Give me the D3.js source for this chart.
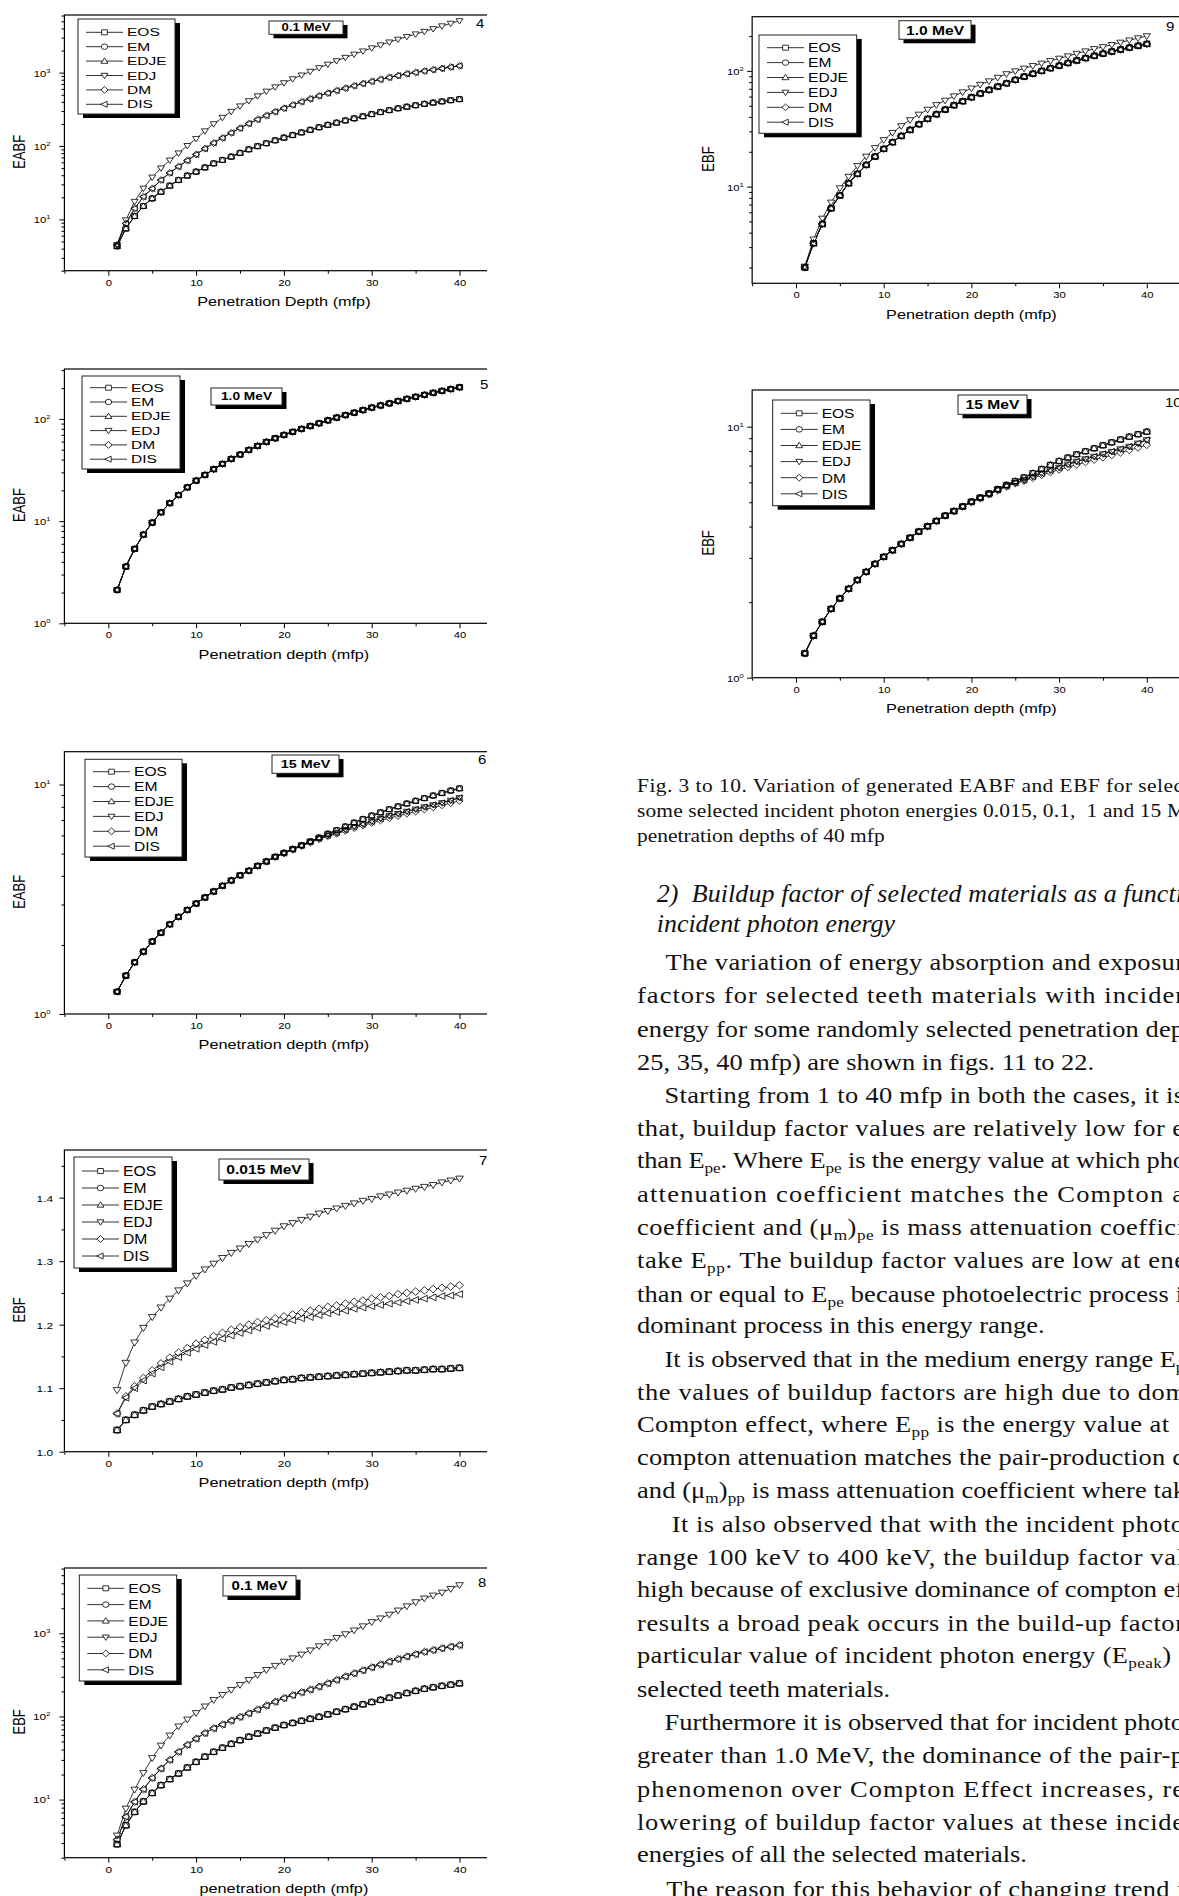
<!DOCTYPE html>
<html>
<head>
<meta charset="utf-8">
<title>EABF and EBF versus penetration depth</title>
<script src="https://d3js.org/d3.v7.min.js"></script>
<style>
  body { margin: 0; background: #fff; }
  svg { display: block; }
</style>
</head>
<body>
<script>
// ---- data ----
const depth = [1,2,3,4,5,6,7,8,9,10,11,12,13,14,15,16,17,18,19,20,
               21,22,23,24,25,26,27,28,29,30,31,32,33,34,35,36,37,38,39,40];
const materials = ["EOS", "EM", "EDJE", "EDJ", "DM", "DIS"];
const xMajor = [0, 10, 20, 30, 40];
const xMinor = [-5, 5, 15, 25, 35, 45];

// fig 4: EABF, 0.1 MeV
const eabf01Low = [4.3,7.5,11.1,15.2,19.3,23.8,28.8,34.4,39.5,44.7, 51,58,64.5,71.6,80.5,90,99.5,109,119.5,130,
                   141,153,166,180,194,208,223,238,254,272, 290,308,326,343,359,375,390,405,420,435];
const eabf01Mid = [4.5,8.8,14.1,20.4,26.3,34.4,43,52.5,63.5,76.7, 92,110,129,151,175,202,230,260,293,327,
                   363,401,440,482,525,569,613,661,709,759, 808,859,910,962,1005,1050,1095,1140,1190,1240];
const eabf01High = [4.5,9.8,17.5,26.5,37.5,50,64,80,101,126, 160,200,244,295,350,412,480,556,636,724,
                    820,923,1037,1161,1297,1445,1605,1778,1962,2163, 2375,2600,2840,3090,3350,3630,3950,4315,4680,5070];
// fig 5: EABF, 1.0 MeV
const eabf10All = [2.12,3.59,5.35,7.38,9.67,12.2,15.0,18.0,21.4,24.9, 28.3,32.2,36.3,40.6,44.8,49.7,54.4,59.6,64.7,69.7,
                   74.7,79.8,85.2,90.7,96.8,103,109,115,122,129, 135.5,142,149.5,157,164.5,172,180,188,196,204];
// fig 6: EABF, 15 MeV
const eabf15Upper = [1.25,1.47,1.68,1.87,2.07,2.26,2.46,2.65,2.84,3.03, 3.22,3.42,3.62,3.82,4.02,4.21,4.42,4.62,4.84,5.04,
                     5.24,5.44,5.65,5.87,6.1,6.32,6.56,6.82,7.07,7.32, 7.56,7.8,8.03,8.26,8.49,8.72,8.95,9.18,9.41,9.62];
const eabf15Lower = [1.25,1.47,1.68,1.87,2.07,2.26,2.46,2.65,2.84,3.03, 3.22,3.42,3.62,3.82,4.02,4.21,4.42,4.62,4.84,5.02,
                     5.21,5.41,5.62,5.82,6.0,6.15,6.35,6.55,6.72,6.9, 7.1,7.3,7.46,7.63,7.8,7.98,8.15,8.32,8.52,8.75];
const eabf15DM = [1.25,1.47,1.68,1.87,2.07,2.26,2.46,2.65,2.84,3.03, 3.22,3.42,3.62,3.82,4.02,4.21,4.42,4.62,4.83,5.01,
                  5.2,5.39,5.58,5.78,5.95,6.1,6.28,6.46,6.63,6.8, 6.97,7.14,7.3,7.46,7.62,7.78,7.95,8.12,8.3,8.49];
// fig 7: EBF, 0.015 MeV
const ebf0015Low = [1.034,1.050,1.058,1.065,1.071,1.075,1.079,1.083,1.087,1.090, 1.093,1.096,1.098,1.101,1.103,1.105,1.107,1.109,1.111,1.113,
                    1.114,1.116,1.117,1.118,1.119,1.120,1.121,1.122,1.123,1.124, 1.125,1.126,1.127,1.128,1.128,1.129,1.130,1.130,1.131,1.132];
const ebf0015DM = [1.06,1.087,1.103,1.116,1.128,1.139,1.148,1.156,1.163,1.170, 1.176,1.182,1.187,1.192,1.196,1.200,1.204,1.207,1.210,1.213,
                   1.216,1.219,1.222,1.225,1.228,1.230,1.233,1.236,1.238,1.241, 1.243,1.245,1.248,1.250,1.252,1.254,1.256,1.258,1.260,1.262];
const ebf0015DIS = [1.06,1.085,1.100,1.112,1.123,1.133,1.142,1.149,1.156,1.162, 1.168,1.173,1.178,1.183,1.187,1.191,1.195,1.198,1.201,1.204,
                    1.207,1.210,1.212,1.215,1.218,1.220,1.222,1.225,1.227,1.229, 1.231,1.233,1.235,1.237,1.239,1.241,1.243,1.245,1.246,1.248];
const ebf0015EDJ = [1.097,1.140,1.172,1.195,1.212,1.227,1.241,1.254,1.265,1.277, 1.287,1.296,1.305,1.313,1.320,1.327,1.334,1.341,1.348,1.355,
                    1.360,1.365,1.370,1.375,1.379,1.383,1.387,1.391,1.395,1.398, 1.402,1.405,1.408,1.411,1.414,1.417,1.420,1.424,1.427,1.430];
// fig 8: EBF, 0.1 MeV
const ebf01Low = [2.9,4.9,7.1,9.5,12.0,14.9,17.6,20.6,24.3,28.4, 32.8,37.5,42,46.8,51.8,57,62.3,67.8,73.2,78.7,
                  83.5,88.5,93.7,99,106,114,122,131,140,149, 158,168,179,191,203,215,224,233,241,250];
const ebf01Mid = [3.3,6.2,9.4,13.3,18.2,23.6,30,37.5,45.5,54, 63,72,80,89,98.5,109,121,135,150,166,
                  180,195,210,228,250,275,302,330,359,389, 421,455,490,525,560,598,628,660,690,720];
const ebf01High = [3.7,7.8,13.2,20.9,31.6,44.7,59,76,92,110, 132,158,182,209,240,275,316,363,407,457,
                   501,556,624,700,785,881,977,1084,1216,1365, 1514,1679,1884,2113,2371,2630,2851,3090,3428,3802];
// fig 9: EBF, 1.0 MeV
const ebf10All = [2.0,3.24,4.75,6.5,8.4,10.7,12.9,15.4,18.2,21.2, 24.2,27.4,30.9,34.6,38.5,42.2,46.3,50.5,54.7,59.2,
                  63.8,68.5,73.3,78.2,83.7,89.3,94.6,100,105.5,111, 117,123,129,135,141,147,153,159,165,171];
const ebf10EDJ = [2.04,3.5,5.3,7.3,9.7,12.2,15.1,18.2,21.6,25.3, 29.2,33.4,37.6,42,46.3,50.8,55.5,60.5,65.5,70.7,
                  76,81.5,87.5,94,99.5,105,110.5,116,122,128, 134,141,148,155,161,168,176,184,192,200];
// fig 10: EBF, 15 MeV
const ebf15Upper = [1.25,1.47,1.67,1.88,2.07,2.26,2.45,2.64,2.84,3.03, 3.22,3.41,3.61,3.82,4.01,4.21,4.42,4.61,4.81,5.03,
                    5.22,5.42,5.64,5.86,6.07,6.28,6.53,6.78,7.04,7.3, 7.53,7.76,7.98,8.2,8.43,8.66,8.89,9.12,9.33,9.55];
const ebf15Lower = [1.25,1.47,1.67,1.88,2.07,2.26,2.45,2.64,2.84,3.03, 3.22,3.41,3.61,3.82,4.01,4.21,4.42,4.61,4.81,5.01,
                    5.2,5.39,5.6,5.8,5.97,6.13,6.33,6.52,6.7,6.87, 7.07,7.26,7.43,7.6,7.78,7.95,8.14,8.33,8.58,8.85];
const ebf15DM = [1.25,1.47,1.67,1.88,2.07,2.26,2.45,2.64,2.84,3.03, 3.22,3.41,3.61,3.82,4.01,4.21,4.42,4.61,4.8,5.0,
                 5.18,5.37,5.57,5.77,5.95,6.08,6.25,6.42,6.58,6.74, 6.9,7.06,7.22,7.38,7.54,7.7,7.88,8.06,8.25,8.45];

// ---- styles ----
const sans = "'Liberation Sans', Arial, Helvetica, sans-serif";
const serif = "'Liberation Serif', 'Times New Roman', Times, serif";
const markerOf = {EOS: "square", EM: "circle", EDJE: "up", EDJ: "down", DM: "diamond", DIS: "left"};
const markerPath = {
  square: "M-2.5,-2.5H2.5V2.5H-2.5Z",
  circle: d3.symbol(d3.symbolCircle, 24)(),
  up: "M0,-3.2L3,2.2L-3,2.2Z",
  down: "M0,3.2L3,-2.2L-3,-2.2Z",
  diamond: "M0,-3.4L3.1,0L0,3.4L-3.1,0Z",
  left: "M-3.3,0L2.3,-3L2.3,3Z"
};

const svg = d3.select("body").append("svg")
  .attr("width", 1179).attr("height", 1896)
  .style("background", "#fff");

function stretchText(parent, x, y, str, size, sx, anchor, weight) {
  return parent.append("text")
    .attr("transform", `translate(${x},${y}) scale(${sx},1)`)
    .attr("font-family", sans)
    .attr("font-size", size)
    .attr("font-weight", weight || "normal")
    .attr("text-anchor", anchor || "start")
    .attr("fill", "#000")
    .text(str);
}

const leftCol = {x0: 108.3, unit: 8.78, clipR: 487, labOff: 14, titleX: 45};
const rightCol = {x0: 796, unit: 8.77, clipR: 1179, labOff: 8.5, titleX: 44};

const panels = [
  Object.assign({}, leftCol, {num: "4", numX: 476, numY: 28, energy: "0.1 MeV", yTitle: "EABF",
    xTitle: "Penetration Depth (mfp)", top: 15, bottom: 270.7, log: true, yDomain: [2, 6100],
    legend: {x: 78, y: 19, w: 97, h: 95, first: 32.3, step: 14.4, font: 11.5, sx: 1.35},
    tag: {x: 269, y: 21, w: 74, h: 13.3, font: 10.5}, ms: 1, tick: 9,
    series: {EOS: eabf01Low, EM: eabf01Low, EDJE: eabf01Low, EDJ: eabf01High, DM: eabf01Mid, DIS: eabf01Mid}}),
  Object.assign({}, leftCol, {num: "5", numX: 480, numY: 389, energy: "1.0 MeV", yTitle: "EABF",
    xTitle: "Penetration depth (mfp)", top: 369, bottom: 623.3, log: true, yDomain: [1, 308],
    legend: {x: 82, y: 376, w: 98, h: 93, first: 387.7, step: 14.3, font: 11.5, sx: 1.35},
    tag: {x: 211, y: 388, w: 71, h: 17, font: 11}, ms: 1, tick: 9,
    series: {EOS: eabf10All, EM: eabf10All, EDJE: eabf10All, EDJ: eabf10All, DM: eabf10All, DIS: eabf10All}}),
  Object.assign({}, leftCol, {num: "6", numX: 478, numY: 764, energy: "15 MeV", yTitle: "EABF",
    xTitle: "Penetration depth (mfp)", top: 751.7, bottom: 1014, log: true, yDomain: [1, 13.9],
    legend: {x: 85, y: 759.3, w: 97, h: 97.7, first: 771.7, step: 14.9, font: 12, sx: 1.3},
    tag: {x: 272, y: 755, w: 67, h: 18.3, font: 11.5}, ms: 1, tick: 9,
    series: {EOS: eabf15Upper, EM: eabf15Upper, EDJE: eabf15Upper, EDJ: eabf15Lower, DM: eabf15DM, DIS: eabf15Lower}}),
  Object.assign({}, leftCol, {num: "7", numX: 479, numY: 1165, energy: "0.015 MeV", yTitle: "EBF",
    xTitle: "Penetration depth (mfp)", top: 1150, bottom: 1451.7, log: false, yDomain: [1.0, 1.475],
    yMajor: [1.0, 1.1, 1.2, 1.3, 1.4], yMinor: [1.05, 1.15, 1.25, 1.35, 1.45], labOff: 11.3,
    legend: {x: 74, y: 1157, w: 98, h: 111, first: 1171, step: 17, font: 14, sx: 1.12},
    tag: {x: 219, y: 1159, w: 90, h: 21, font: 12.5}, ms: 1.12, tick: 9.5,
    series: {EOS: ebf0015Low, EM: ebf0015Low, EDJE: ebf0015Low, EDJ: ebf0015EDJ, DM: ebf0015DM, DIS: ebf0015DIS}}),
  Object.assign({}, leftCol, {num: "8", numX: 478, numY: 1587, energy: "0.1 MeV", yTitle: "EBF",
    xTitle: "penetration depth (mfp)", top: 1568, bottom: 1857.7, log: true, yDomain: [2, 6100],
    legend: {x: 79.3, y: 1575, w: 97.4, h: 106, first: 1588.3, step: 16.3, font: 13.5, sx: 1.15},
    tag: {x: 223, y: 1575.7, w: 73, h: 20.3, font: 12}, ms: 1.08, tick: 9.5,
    series: {EOS: ebf01Low, EM: ebf01Low, EDJE: ebf01Low, EDJ: ebf01High, DM: ebf01Mid, DIS: ebf01Mid}}),
  Object.assign({}, rightCol, {num: "9", numX: 1166, numY: 31, energy: "1.0 MeV", yTitle: "EBF",
    xTitle: "Penetration depth (mfp)", top: 16.7, bottom: 283.3, log: true, yDomain: [1.46, 294],
    legend: {x: 759, y: 35, w: 97.7, h: 98.3, first: 47.7, step: 14.9, font: 12.5, sx: 1.25},
    tag: {x: 899, y: 20.7, w: 72, h: 18.6, font: 12.5}, ms: 1.05, tick: 9,
    series: {EOS: ebf10All, EM: ebf10All, EDJE: ebf10All, EDJ: ebf10EDJ, DM: ebf10All, DIS: ebf10All}}),
  Object.assign({}, rightCol, {num: "10", numX: 1165, numY: 407, energy: "15 MeV", yTitle: "EBF",
    xTitle: "Penetration depth (mfp)", top: 390, bottom: 677.7, log: true, yDomain: [1, 14],
    legend: {x: 772.7, y: 400, w: 97.3, h: 105.7, first: 413.3, step: 16.1, font: 13.5, sx: 1.15},
    tag: {x: 958, y: 395, w: 69, h: 19.3, font: 12.5}, ms: 1.05, tick: 9,
    series: {EOS: ebf15Upper, EM: ebf15Upper, EDJE: ebf15Upper, EDJ: ebf15Lower, DM: ebf15DM, DIS: ebf15Lower}})
];

function logTicks(domain) {
  const major = [], minor = [];
  for (let e = Math.floor(Math.log10(domain[0])); e <= Math.ceil(Math.log10(domain[1])); e++) {
    const base = Math.pow(10, e);
    if (base >= domain[0] - 1e-9 && base <= domain[1]) major.push(base);
    for (let k = 2; k <= 9; k++) {
      const v = k * base;
      if (v >= domain[0] && v <= domain[1]) minor.push(v);
    }
  }
  return {major, minor};
}

function drawPanel(p) {
  const clipId = "clip-" + p.num;
  svg.append("clipPath").attr("id", clipId).append("rect")
    .attr("x", 0).attr("y", 0).attr("width", p.clipR).attr("height", 1896);
  const g = svg.append("g").attr("clip-path", `url(#${clipId})`);

  const x = d3.scaleLinear().domain([-5, 45]).range([p.x0 - 5 * p.unit, p.x0 + 45 * p.unit]);
  const y = (p.log ? d3.scaleLog() : d3.scaleLinear()).domain(p.yDomain).range([p.bottom, p.top]);
  const left = x(-5);
  const tsx = 1.25;

  // x axis
  const xa = g.append("g").attr("transform", `translate(0,${p.bottom})`)
    .call(d3.axisBottom(x).tickValues(xMajor).tickSize(5).tickSizeOuter(0).tickFormat(d3.format("d")));
  g.append("g").attr("transform", `translate(0,${p.bottom})`)
    .call(d3.axisBottom(x).tickValues(xMinor).tickSize(3).tickSizeOuter(0).tickFormat(""))
    .call(a => a.select(".domain").remove());
  xa.select(".domain").remove();
  xa.selectAll(".tick text")
    .attr("y", null).attr("dy", null)
    .attr("transform", `translate(0,15) scale(${tsx},1)`)
    .attr("font-family", sans).attr("font-size", p.tick).attr("fill", "#000");

  // y axis
  let yMajor = p.yMajor, yMinor = p.yMinor;
  if (p.log) { const t = logTicks(p.yDomain); yMajor = t.major; yMinor = t.minor; }
  const ya = g.append("g").attr("transform", `translate(${left},0)`)
    .call(d3.axisLeft(y).tickValues(yMajor).tickSize(5).tickSizeOuter(0)
      .tickFormat(p.log ? (d => "10") : d3.format(".1f")));
  g.append("g").attr("transform", `translate(${left},0)`)
    .call(d3.axisLeft(y).tickValues(yMinor).tickSize(3).tickSizeOuter(0).tickFormat(""))
    .call(a => a.select(".domain").remove());
  ya.select(".domain").remove();
  ya.selectAll(".tick text")
    .attr("x", null).attr("dy", null)
    .attr("transform", `translate(${-p.labOff},3.4) scale(${tsx},1)`)
    .attr("font-family", sans).attr("font-size", p.tick).attr("fill", "#000")
    .each(function(d) {
      if (!p.log) return;
      const e = Math.round(Math.log10(d));
      d3.select(this).append("tspan").attr("dy", -4).attr("font-size", 6).text(e);
    });
  g.selectAll(".tick line").attr("stroke", "#000");

  // frame
  g.append("rect")
    .attr("x", left).attr("y", p.top)
    .attr("width", x(45) - left).attr("height", p.bottom - p.top)
    .attr("fill", "none").attr("stroke", "#000").attr("stroke-width", 1.2);

  // curves: lines first, then marker fills, then marker outlines
  const line = d3.line().x((d, i) => x(depth[i])).y(d => y(d));
  const lineLayer = g.append("g"), fillLayer = g.append("g"), edgeLayer = g.append("g");
  materials.forEach(m => {
    const vals = p.series[m];
    lineLayer.append("path").attr("d", line(vals))
      .attr("fill", "none").attr("stroke", "#111").attr("stroke-width", 0.85);
    const tr = (d, i) => `translate(${x(depth[i])},${y(d)}) scale(${p.ms * 1.15},${p.ms})`;
    fillLayer.selectAll(null).data(vals).join("path")
      .attr("d", markerPath[markerOf[m]]).attr("transform", tr).attr("fill", "#fff");
    edgeLayer.selectAll(null).data(vals).join("path")
      .attr("d", markerPath[markerOf[m]]).attr("transform", tr)
      .attr("fill", "none").attr("stroke", "#000").attr("stroke-width", 0.8)
      .attr("vector-effect", "non-scaling-stroke");
  });

  // axis titles
  stretchText(svg, x(20), p.bottom + 35.3, p.xTitle, 13, tsx, "middle");
  svg.append("text")
    .attr("transform", `translate(${left - p.titleX + 5.5},${(p.top + p.bottom) / 2 + 9}) rotate(-90) scale(1,${tsx})`)
    .attr("font-family", sans).attr("font-size", 13).attr("text-anchor", "middle")
    .text(p.yTitle);

  // legend with drop shadow
  const L = p.legend;
  const lg = svg.append("g");
  lg.append("rect").attr("x", L.x + 5).attr("y", L.y + 4).attr("width", L.w).attr("height", L.h).attr("fill", "#000");
  lg.append("rect").attr("x", L.x).attr("y", L.y).attr("width", L.w).attr("height", L.h)
    .attr("fill", "#fff").attr("stroke", "#222").attr("stroke-width", 1);
  materials.forEach((m, i) => {
    const yy = L.first + i * L.step;
    lg.append("line").attr("x1", L.x + 8).attr("x2", L.x + 45).attr("y1", yy).attr("y2", yy)
      .attr("stroke", "#333").attr("stroke-width", 1);
    lg.append("path").attr("d", markerPath[markerOf[m]])
      .attr("transform", `translate(${L.x + 26.5},${yy}) scale(1.15,1)`)
      .attr("fill", "#fff").attr("stroke", "#000").attr("stroke-width", 0.8)
      .attr("vector-effect", "non-scaling-stroke");
    stretchText(lg, L.x + 49, yy + 0.36 * L.font, m, L.font, L.sx);
  });

  // energy tag with drop shadow
  const T = p.tag;
  svg.append("rect").attr("x", T.x + 4.5).attr("y", T.y + 4).attr("width", T.w).attr("height", T.h).attr("fill", "#000");
  svg.append("rect").attr("x", T.x).attr("y", T.y).attr("width", T.w).attr("height", T.h)
    .attr("fill", "#fff").attr("stroke", "#222").attr("stroke-width", 1);
  stretchText(svg, T.x + T.w / 2, T.y + T.h / 2 + 0.36 * T.font, p.energy, T.font, 1.25, "middle", "bold");

  // figure number
  stretchText(svg, p.numX, p.numY, p.num, 13, 1.15);
}

panels.forEach(drawPanel);

// ---- text column ----
const captionLines = [
  {s: "Fig. 3 to 10. Variation of generated EABF and EBF for selec", x: 637, y: 791.7, end: 1183},
  {s: "some selected incident photon energies 0.015, 0.1,  1 and 15 M", x: 637, y: 816.7, end: 1186},
  {s: "penetration depths of 40 mfp", x: 637, y: 841.7}
];
const headingLines = [
  {s: "2)  Buildup factor of selected materials as a functi", x: 656.7, y: 901.7, end: 1183},
  {s: "incident photon energy", x: 656.7, y: 931.7}
];
const bodyLines = [
  {s: "The variation of energy absorption and exposur", x: 665.6, y: 970, end: 1184},
  {s: "factors for selected teeth materials with incider", x: 637, y: 1003.3, end: 1184},
  {s: "energy for some randomly selected penetration dep", x: 637, y: 1036.7, end: 1184},
  {s: "25, 35, 40 mfp) are shown in figs. 11 to 22.", x: 637, y: 1070},
  {s: "Starting from 1 to 40 mfp in both the cases, it is", x: 664.6, y: 1103.3, end: 1184},
  {s: "that, buildup factor values are relatively low for e", x: 637, y: 1136, end: 1184},
  {s: "than E_{pe}. Where E_{pe} is the energy value at which pho", x: 637, y: 1168.3, end: 1186},
  {s: "attenuation coefficient matches the Compton a", x: 637, y: 1201.7, end: 1184},
  {s: "coefficient and (\u03bc_{m})_{pe} is mass attenuation coeffici", x: 637, y: 1235, end: 1184},
  {s: "take E_{pp}. The buildup factor values are low at ene", x: 637, y: 1268.3, end: 1186},
  {s: "than or equal to E_{pe} because photoelectric process i", x: 637, y: 1301.7, end: 1183},
  {s: "dominant process in this energy range.", x: 637, y: 1333.3},
  {s: "It is observed that in the medium energy range E_{pe}", x: 664.6, y: 1366.7, end: 1192},
  {s: "the values of buildup factors are high due to dom", x: 637, y: 1400, end: 1186},
  {s: "Compton effect, where E_{pp} is the energy value at", x: 637, y: 1431.7, end: 1169},
  {s: "compton attenuation matches the pair-production c", x: 637, y: 1465, end: 1184},
  {s: "and (\u03bc_{m})_{pp} is mass attenuation coefficient where tak", x: 637, y: 1498.3, end: 1186},
  {s: "It is also observed that with the incident photo", x: 671.7, y: 1531.7, end: 1184},
  {s: "range 100 keV to 400 keV, the buildup factor val", x: 637, y: 1565, end: 1184},
  {s: "high because of exclusive dominance of compton ef", x: 637, y: 1597.3, end: 1184},
  {s: "results a broad peak occurs in the build-up factor", x: 637, y: 1630.7, end: 1184},
  {s: "particular value of incident photon energy (E_{peak})", x: 637, y: 1663.3, end: 1171},
  {s: "selected teeth materials.", x: 637, y: 1696.7},
  {s: "Furthermore it is observed that for incident photo", x: 664.6, y: 1730, end: 1184},
  {s: "greater than 1.0 MeV, the dominance of the pair-p", x: 637, y: 1763.3, end: 1184},
  {s: "phenomenon over Compton Effect increases, re", x: 637, y: 1796.7, end: 1184},
  {s: "lowering of buildup factor values at these incide", x: 637, y: 1830, end: 1184},
  {s: "energies of all the selected materials.", x: 637, y: 1861.7},
  {s: "The reason for this behavior of changing trend i", x: 666.3, y: 1896.7, end: 1184}
];

function writeLine(L, size, sx, italic) {
  const g = svg.append("g").attr("transform", `translate(${L.x},${L.y}) scale(${sx},1)`);
  const t = g.append("text")
    .attr("font-family", serif).attr("font-size", size)
    .attr("font-style", italic ? "italic" : "normal")
    .attr("fill", "#111")
    .style("white-space", "pre");
  let down = false;
  L.s.split(/(_\{[^}]*\})/).forEach(part => {
    if (!part) return;
    if (part.startsWith("_{")) {
      t.append("tspan").attr("font-size", size * 0.65).attr("dy", down ? 0 : 5).text(part.slice(2, -1));
      down = true;
    } else {
      t.append("tspan").attr("dy", down ? -5 : 0).text(part);
      down = false;
    }
  });
  if (L.end) t.attr("textLength", (L.end - L.x) / sx).attr("lengthAdjust", "spacing");
}

captionLines.forEach(L => writeLine(L, 19.5, 1.1, false));
headingLines.forEach(L => writeLine(L, 24.5, 1.06, true));
bodyLines.forEach(L => writeLine(L, 23, 1.15, false));
</script>
</body>
</html>
